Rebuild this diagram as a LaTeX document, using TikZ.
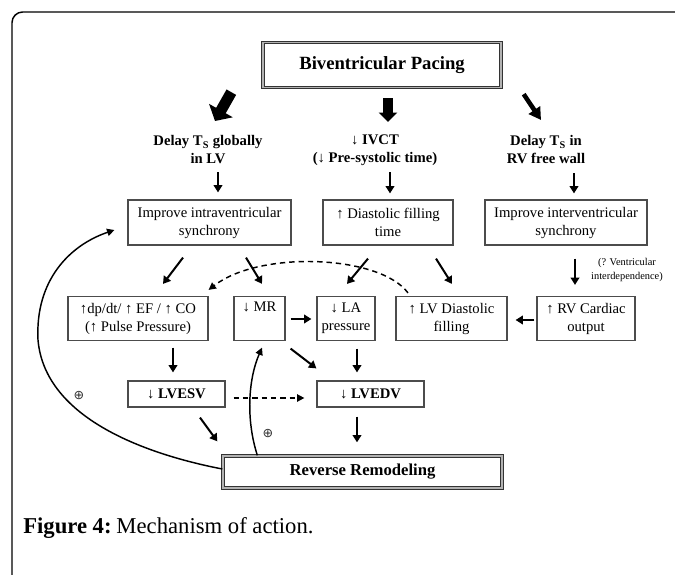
\documentclass[tikz,border=0pt]{standalone}
\usepackage{fontspec}
\setmainfont{Liberation Serif}
\newfontfamily\symfont{DejaVu Sans}
\usetikzlibrary{arrows.meta,calc}
\begin{document}
\begin{tikzpicture}[x=0.75pt,y=-0.75pt,
  box/.style={draw=black!70, line width=0.9pt, inner sep=0pt, align=center, font=\fontsize{11}{13.5}\selectfont},
  bbox/.style={box, font=\bfseries\fontsize{11}{13.5}\selectfont},
  dbox/.style={draw=black!80, line width=1pt, double=black!30, double distance=0.8pt, inner sep=0pt, align=center},
  head/.style={align=center, font=\bfseries\fontsize{11}{13.5}\selectfont, inner sep=0pt},
  arr/.style={line width=1.5pt, -{Triangle[length=5.5pt,width=6.5pt]}},
  thinarr/.style={line width=1.1pt, -{Triangle[length=5.5pt,width=5.5pt]}},
  dsh/.style={thinarr, dash pattern=on 4pt off 3pt},
  plus/.style={font=\symfont\fontsize{9.5}{10}\selectfont, inner sep=0pt, text=black!80},
]
\clip (0,0) rectangle (675,575);
\useasboundingbox (0,0) rectangle (675,575);
\fill[white] (0,0) rectangle (675,575);
\draw[line width=1.1pt, rounded corners=8pt] (12,700) -- (12,12) -- (700,12);

% title
\node[dbox, minimum width=178.5pt, minimum height=33.75pt, font=\bfseries\fontsize{14}{16}\selectfont] (bp) at (382,65) {Biventricular Pacing};

% headings
\node[head] (hl) at (208,150) {Delay T\textsubscript{S} globally\\in LV};
\node[head] (hm) at (375,150) {↓ IVCT\\(↓ Pre-systolic time)};
\node[head] (hr) at (546,150) {Delay T\textsubscript{S} in\\RV free wall};

% row 1
\node[box, minimum width=122.25pt, minimum height=33.75pt] (A) at (209.5,222.5) {Improve intraventricular\\synchrony};
\node[box, minimum width=97.5pt, minimum height=33.75pt] (B) at (388,222.5) {↑ Diastolic filling\\time};
\node[box, minimum width=121.5pt, minimum height=33.75pt] (C) at (566,222.5) {Improve interventricular\\synchrony};

% row 2
\node[box, minimum width=105pt, minimum height=33pt] (dp) at (138,318.5) {↑dp/dt/ ↑ EF / ↑ CO\\(↑ Pulse Pressure)};
\node[box, minimum width=38.25pt, minimum height=33pt] (MR) at (259.5,318.5) {↓ MR\\\strut};
\node[box, minimum width=43.5pt, minimum height=33pt] (LA) at (346,318.5) {↓ LA\\pressure};
\node[box, minimum width=83.25pt, minimum height=33pt] (LVD) at (451.5,318.5) {↑ LV Diastolic\\filling};
\node[box, minimum width=73.5pt, minimum height=33pt] (RV) at (586,318.5) {↑ RV Cardiac\\output};

% row 3
\node[bbox, minimum width=72.75pt, minimum height=19.5pt] (esv) at (176.5,394) {↓ LVESV};
\node[bbox, minimum width=80.25pt, minimum height=19.5pt] (edv) at (370.5,394) {↓ LVEDV};
\node[dbox, minimum width=209.25pt, minimum height=24pt, font=\bfseries\fontsize{12.5}{14}\selectfont] (rr) at (362.5,472) {Reverse Remodeling};

% labels
\node[font=\fontsize{7.8}{10.5}\selectfont, align=center, inner sep=0pt] (vi) at (627,270) {(? Ventricular\\interdependence)};
\node[plus] (p1) at (79,396) {⊕};
\node[plus] (p2) at (268,434) {⊕};
\node[anchor=west, inner sep=0pt, font=\fontsize{17}{20}\selectfont] (cap) at (23,528) {\textbf{Figure 4:}\hspace{-2pt} Mechanism of action.};

% fat arrows
\draw[line width=8.25pt, -{Triangle[length=9pt,width=20pt]}] ($(bp.south west)+(-31,4)$) -- ($(hl.center)+(7,-29)$);
\draw[line width=7.5pt, -{Triangle[length=7pt,width=13.5pt]}] ($(bp.south)+(6,10)$) -- ($(hm.center)+(13,-28)$);
\draw[line width=3.4pt, -{Triangle[length=9pt,width=10pt]}] ($(bp.south east)+(22,6)$) -- ($(hr.center)+(-5,-30)$);

% heading -> row1
\draw[arr] ($(hl.center)+(10,22)$) -- ($(A.north)+(8.5,-7)$);
\draw[arr] ($(hm.center)+(15,22)$) -- ($(B.north)+(2,-6)$);
\draw[arr] ($(hr.center)+(28,23)$) -- ($(C.north)+(8,-6)$);

% row1 -> row2
\draw[arr] ($(A.south)+(-26.5,12)$) -- ($(dp.north)+(25,-12)$);
\draw[arr] ($(A.south)+(36.5,12)$) -- ($(MR.north)+(2.5,-12)$);
\draw[arr] ($(B.south)+(-20,13)$) -- ($(LA.north)+(1,-12)$);
\draw[arr] ($(B.south)+(48,13)$) -- ($(LVD.north)+(0.5,-12)$);
\draw[arr] ($(C.south)+(9,13)$) -- ($(RV.north)+(-11,-11)$);

% dashed curve LVD -> dp
\draw[dsh] ($(LVD.north)+(-43.5,-3)$) .. controls (380,255) and (260,250) .. ($(dp.north east)+(0,-6)$);

% horizontal
\draw[arr] ($(MR.east)+(5,0.5)$) -- ($(LA.west)+(-5,0.5)$);
\draw[arr] ($(RV.west)+(-2,1.5)$) -- ($(LVD.east)+(8,1.5)$);

% row2 -> row3
\draw[arr] ($(dp.south)+(35,6.5)$) -- ($(esv.north)+(-3.5,-8)$);
\draw[arr] ($(MR.south east)+(5,7.5)$) -- ($(edv.north west)+(0,-12)$);
\draw[arr] ($(LA.south)+(11,7.5)$) -- ($(edv.north)+(-13.5,-8)$);
\draw[dsh] ($(esv.east)+(8,4)$) -- ($(edv.west)+(-12,4)$);

% row3 -> rr
\draw[arr] ($(esv.south)+(23.5,10)$) -- ($(rr.north west)+(-5,-14)$);
\draw[arr] ($(edv.south)+(-13.5,9)$) -- ($(rr.north)+(-5.5,-13)$);

% feedback curves
\draw[thinarr] ($(rr.west)+(0,-3)$) .. controls (150,455) and (45,420) .. (38,340) .. controls (35,280) and (70,245) .. ($(A.west)+(-13,7.5)$);
\draw[thinarr] ($(rr.north west)+(35,0)$) .. controls (246,420) and (248,380) .. ($(MR.south)+(2.5,6.5)$);
\end{tikzpicture}
\end{document}
